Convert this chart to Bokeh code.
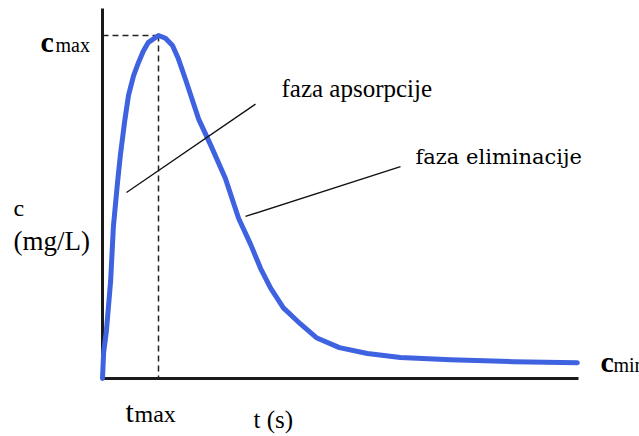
from bokeh.plotting import figure
from bokeh.models import Range1d
from bokeh.embed import file_html
from bokeh.resources import INLINE
from bokeh.core.properties import value

# Concentration-time curve (time units, concentration units)
t = [0, 0.04, 0.14, 0.29, 0.39, 0.54, 0.64, 0.79, 0.93, 1.11, 1.29, 1.46,
     1.64, 2.0, 2.25, 2.5, 2.71, 2.96, 3.43, 3.86, 4.39, 4.86, 5.29, 5.64,
     6.0, 6.46, 7.07, 7.64, 8.46, 9.46, 10.64, 12.43, 14.68, 16.96]
c = [0, 0.75, 1.39, 2.84, 4.44, 5.74, 6.52, 7.49, 8.26, 8.83, 9.22, 9.55,
     9.80, 10.0, 9.92, 9.71, 9.32, 8.73, 7.57, 6.81, 5.83, 4.67, 3.91, 3.22,
     2.64, 2.06, 1.59, 1.19, 0.90, 0.73, 0.61, 0.55, 0.49, 0.46]

t_max = t[c.index(max(c))]
c_max = max(c)
t_end = 17.0
c_axis_top = 10.79

labels_phase = ["faza apsorpcije", "faza eliminacije"]

p = figure(width=639, height=436, output_backend="svg", toolbar_location=None,
           x_range=Range1d(-3.643, 19.179), y_range=Range1d(-1.691, 11.02),
           min_border=0)
p.axis.visible = False
p.grid.visible = False
p.outline_line_color = None

def txt(x, y, s, size, font="Liberation Serif", style=None):
    kw = {}
    if style:
        kw["text_font_style"] = style
    p.text(x=[x], y=[y], text=[s], text_font=value(font), text_font_size=size,
           text_baseline="alphabetic", **kw)

# labels first
txt(6.393, 8.455, labels_phase[0], "25px")
txt(11.179, 6.472, labels_phase[1], "21px", "DejaVu Serif")
txt(-3.179, 4.974, "c", "24px")
txt(-3.179, 4.015, "(mg/L)", "27px")
txt(-2.214, 9.819, "c", "30px", "Liberation Serif, DejaVu Serif", "bold")
txt(-1.679, 9.714, "max", "20px", "Liberation Serif, DejaVu Serif")
txt(0.821, -0.968, "t", "30px")
txt(1.143, -1.032, "max", "24px")
txt(5.393, -1.195, "t (s)", "25px")
txt(17.786, 0.490, "c", "30px", "Liberation Serif", "bold")
txt(18.25, 0.385, "min", "20px")

# axes
p.line([0, 0], [c_axis_top, 0], line_color="#1a1a1a", line_width=3)
p.line([0, t_end], [0, 0], line_color="#1a1a1a", line_width=3)

# dashed guides at the peak
p.line([0, t_max], [c_max, c_max], line_color="#222222", line_width=1.5,
       line_dash="6 4")
p.line([t_max, t_max], [c_max, 0], line_color="#222222", line_width=1.5,
       line_dash="6 4")

# curve
p.line(t, c, line_color="#3f62e0", line_width=5, line_join="round",
       line_cap="round")

# phase pointer lines
p.line([0.857, 5.464], [5.42, 8.0], line_color="#111111", line_width=1.3)
p.line([5.107, 10.643], [4.725, 6.174], line_color="#111111", line_width=1.3)

open("out.html", "w").write(file_html(p, INLINE))
